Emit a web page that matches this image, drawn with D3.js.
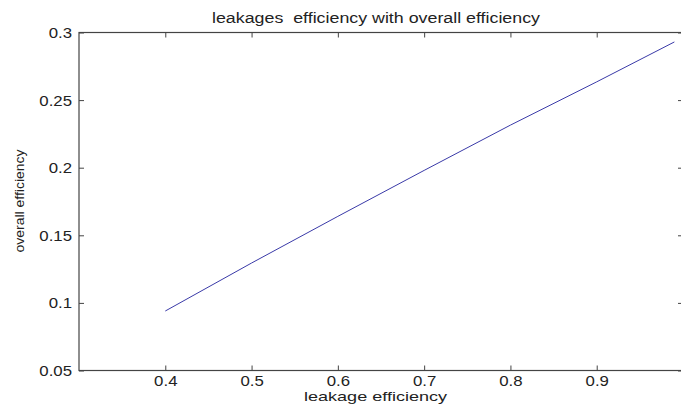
<!DOCTYPE html>
<html>
<head>
<meta charset="utf-8">
<script src="https://cdn.jsdelivr.net/npm/d3@7"></script>
<style>
  html, body { margin: 0; padding: 0; background: #fff; }
  svg { display: block; }
  text { font-family: "Liberation Sans", Arial, sans-serif; fill: #222; white-space: pre; }
</style>
</head>
<body>
<svg id="chart" width="681" height="407"></svg>
<script>
// Leakage efficiency vs. overall efficiency
const leakageEfficiency = [0.40, 0.50, 0.60, 0.70, 0.80, 0.90, 0.99];
const overallEfficiency = [0.094, 0.1295, 0.164, 0.198, 0.2315, 0.2635, 0.293];
const xTicks = [0.4, 0.5, 0.6, 0.7, 0.8, 0.9, 1.0];
const yTicks = [0.05, 0.1, 0.15, 0.2, 0.25, 0.3];

const titleText = "leakages  efficiency with overall efficiency";
const xLabelText = "leakage efficiency";
const yLabelText = "overall efficiency";

const svg = d3.select("#chart");
const plotLeft = 79, plotRight = 683, plotTop = 32.5, plotBottom = 370.5;
const sx = 1.2; // horizontal text stretch

const x = d3.scaleLinear().domain([0.3, 1.0]).range([plotLeft, plotRight]);
const y = d3.scaleLinear().domain([0.05, 0.3]).range([plotBottom, plotTop]);

const fmt = d => String(+d.toFixed(2));

// axis box
svg.append("rect")
  .attr("x", plotLeft).attr("y", plotTop)
  .attr("width", plotRight - plotLeft).attr("height", plotBottom - plotTop)
  .attr("fill", "none").attr("stroke", "#444").attr("stroke-width", 1.2);

// bottom axis: inward ticks with labels
const gx = svg.append("g").attr("transform", `translate(0,${plotBottom})`)
  .call(d3.axisBottom(x).tickValues(xTicks.filter(v => v < 1)).tickSizeInner(-5).tickSizeOuter(0).tickFormat(fmt));
gx.select(".domain").remove();
gx.selectAll("line").attr("stroke", "#444");
gx.selectAll("text")
  .attr("y", 15.5).attr("dy", null)
  .attr("transform", `scale(${sx},1)`)
  .style("font-size", "14px").attr("fill", "#222");

// top axis: inward ticks only
const gt = svg.append("g").attr("transform", `translate(0,${plotTop})`)
  .call(d3.axisTop(x).tickValues(xTicks).tickSizeInner(-5).tickSizeOuter(0).tickFormat(""));
gt.select(".domain").remove();
gt.selectAll("line").attr("stroke", "#444");

// left axis: inward ticks with labels
const gy = svg.append("g").attr("transform", `translate(${plotLeft},0)`)
  .call(d3.axisLeft(y).tickValues(yTicks).tickSizeInner(-5).tickSizeOuter(0).tickFormat(fmt));
gy.select(".domain").remove();
gy.selectAll("line").attr("stroke", "#444");
gy.selectAll("text")
  .attr("x", -7 / sx).attr("dy", "0.35em")
  .attr("transform", `scale(${sx},1)`)
  .style("font-size", "14px").attr("fill", "#222");

// right axis: inward ticks only
const gr = svg.append("g").attr("transform", `translate(${plotRight},0)`)
  .call(d3.axisRight(y).tickValues(yTicks).tickSizeInner(-5).tickSizeOuter(0).tickFormat(""));
gr.select(".domain").remove();
gr.selectAll("line").attr("stroke", "#444");

// data line
svg.append("path")
  .datum(leakageEfficiency.map((v, i) => [v, overallEfficiency[i]]))
  .attr("fill", "none")
  .attr("stroke", "#3a3aa8")
  .attr("stroke-width", 1)
  .attr("d", d3.line().x(d => x(d[0])).y(d => y(d[1])));

// title
svg.append("text")
  .attr("x", 376).attr("y", 23)
  .attr("text-anchor", "middle")
  .attr("textLength", 328)
  .attr("lengthAdjust", "spacingAndGlyphs")
  .style("font-size", "14px")
  .text(titleText);

// x label
svg.append("text")
  .attr("x", 375.5).attr("y", 401)
  .attr("text-anchor", "middle")
  .attr("textLength", 143)
  .attr("lengthAdjust", "spacingAndGlyphs")
  .style("font-size", "13px")
  .text(xLabelText);

// y label
svg.append("text")
  .attr("transform", "translate(24,201) rotate(-90)")
  .attr("text-anchor", "middle")
  .attr("textLength", 103)
  .attr("lengthAdjust", "spacingAndGlyphs")
  .style("font-size", "13px")
  .text(yLabelText);
</script>
</body>
</html>
